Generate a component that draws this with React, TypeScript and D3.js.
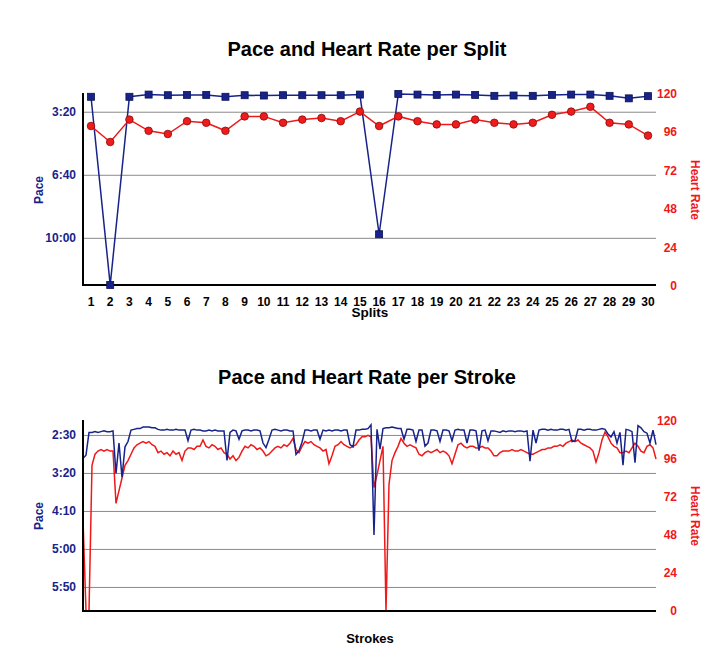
import React from 'react'
import * as d3 from 'd3'

// split chart data
const splits = [1, 2, 3, 4, 5, 6, 7, 8, 9, 10, 11, 12, 13, 14, 15, 16, 17, 18, 19, 20, 21, 22, 23, 24, 25, 26, 27, 28, 29, 30]
// pace per split, seconds per 500m
const splitPace = [151, 748, 151, 144, 146, 145, 145, 151, 146, 147, 146, 146, 146, 146, 144, 587, 142, 144, 145, 144, 145, 148, 147, 148, 145, 144, 144, 148, 156, 149]
const splitHeartRate = [100, 90, 104, 97, 95, 103, 102, 97, 106, 106, 102, 104, 105, 103, 109, 100, 106, 103, 101, 101, 104, 102, 101, 102, 107, 109, 112, 102, 101, 94]

// stroke chart data (one value per stroke sample)
const strokePace = [
  180, 176, 146, 146, 145, 146, 145, 144, 145, 145,
  144, 200, 160, 205, 165, 158, 143, 142, 141, 141,
  139, 139, 139, 140, 140, 142, 143, 143, 142, 143,
  143, 142, 143, 143, 143, 157, 143, 142, 143, 143,
  144, 144, 143, 144, 143, 144, 144, 144, 183, 146,
  143, 144, 155, 144, 143, 143, 144, 143, 143, 144,
  160, 166, 155, 143, 142, 143, 144, 143, 143, 144,
  144, 175, 170, 159, 143, 143, 144, 143, 143, 155,
  143, 144, 143, 144, 143, 143, 144, 143, 143, 162,
  165, 143, 143, 142, 142, 141, 136, 281, 142, 168,
  141, 140, 140, 139, 140, 141, 141, 155, 142, 142,
  143, 158, 143, 143, 164, 160, 143, 143, 144, 158,
  143, 143, 144, 157, 143, 142, 143, 143, 160, 143,
  143, 144, 170, 144, 143, 157, 144, 144, 145, 146,
  144, 145, 144, 144, 145, 144, 144, 145, 144, 184,
  143, 160, 143, 142, 142, 143, 142, 143, 143, 142,
  142, 143, 142, 158, 157, 142, 142, 143, 142, 142,
  143, 143, 142, 141, 142, 148, 152, 145, 160, 146,
  189, 142, 143, 145, 186, 137, 140, 145, 147, 160,
  143, 162
]
const strokeHeartRate = [
  58, 0, 0, 92, 99, 101, 102, 101, 102, 101,
  101, 68, 76, 84, 92, 95, 99, 103, 105, 106,
  107, 106, 107, 105, 104, 100, 101, 99, 100, 98,
  101, 99, 100, 95, 101, 103, 103, 102, 104, 104,
  108, 104, 103, 105, 104, 102, 103, 100, 99, 96,
  98, 95, 97, 101, 104, 103, 105, 104, 102, 103,
  101, 98, 99, 101, 103, 104, 103, 105, 104, 106,
  109, 102, 100, 104, 107, 106, 107, 105, 104, 103,
  101, 102, 93, 98, 104, 105, 107, 105, 104, 103,
  104, 105, 108, 110, 110, 111, 110, 78, 86, 95,
  104, 0, 80, 95, 100, 104, 109, 106, 104, 105,
  104, 103, 99, 98, 100, 101, 100, 101, 102, 100,
  101, 100, 98, 93, 99, 105, 106, 104, 103, 104,
  104, 103, 103, 104, 103, 103, 101, 98, 98, 100,
  101, 101, 101, 102, 101, 101, 102, 101, 100, 99,
  99, 100, 101, 102, 102, 103, 103, 104, 104, 105,
  104, 106, 107, 108, 107, 108, 106, 105, 104, 103,
  101, 94, 100, 108, 113, 110, 106, 104, 103, 100,
  100, 101, 100, 103, 106, 104, 101, 100, 104, 105,
  103, 96
]

const splitPaceTicks = [200, 400, 600]
const strokePaceTicks = [150, 200, 250, 300, 350]
const heartRateTicks = [0, 24, 48, 72, 96, 120]

const NAVY = '#17238a'
const RED = '#f01818'
const FONT = '"Liberation Sans", Arial, Helvetica, sans-serif'

const fmtPace = (s: number) => `${Math.floor(s / 60)}:${String(s % 60).padStart(2, '0')}`

export default function App () {
  const left = 83
  const right = 656

  // --- per split ---
  const x1 = d3.scalePoint<number>().domain(splits).range([91, 648])
  const yPace1 = d3.scaleLinear().domain([139, 748]).range([93, 285])
  const yHr1 = d3.scaleLinear().domain([0, 120]).range([286, 94])
  const paceLine1 = d3.line<number>().x((d, i) => x1(splits[i])!).y(d => yPace1(d))
  const hrLine1 = d3.line<number>().x((d, i) => x1(splits[i])!).y(d => yHr1(d))

  // --- per stroke ---
  const x2 = d3.scaleLinear().domain([0, strokePace.length - 1]).range([left, right])
  const yPace2 = d3.scaleLinear().domain([131, 381]).range([421, 611])
  const yHr2 = d3.scaleLinear().domain([0, 120]).range([611, 421])
  const paceLine2 = d3.line<number>().x((d, i) => x2(i)).y(d => yPace2(d))
  const hrLine2 = d3.line<number>().x((d, i) => x2(i)).y(d => yHr2(d))

  return (
    <svg width={713} height={659} style={{position: 'absolute', left: 0, top: 0, background: '#fff'}} fontFamily={FONT}>
      {/* ===== top chart ===== */}
      <text x={367} y={56} textAnchor='middle' fontSize={20} fontWeight='bold'>Pace and Heart Rate per Split</text>
      {splitPaceTicks.map(t => (
        <g key={'g1' + t}>
          <line x1={left} x2={right} y1={yPace1(t)} y2={yPace1(t)} stroke='#8a8a8a' strokeWidth={1} />
          <text x={76} y={yPace1(t) + 4} textAnchor='end' fontSize={12} fontWeight='bold' fill={NAVY}>{fmtPace(t)}</text>
        </g>
      ))}
      {heartRateTicks.map(t => (
        <text key={'h1' + t} x={677} y={yHr1(t) + 4} textAnchor='end' fontSize={12} fontWeight='bold' fill={RED}>{t}</text>
      ))}
      {splits.map(s => (
        <text key={'s' + s} x={x1(s)} y={305.5} textAnchor='middle' fontSize={12} fontWeight='bold' fill='#000'>{s}</text>
      ))}
      <text x={370} y={316.5} textAnchor='middle' fontSize={13.5} fontWeight='bold'>Splits</text>
      <text transform='translate(43,190) rotate(-90)' textAnchor='middle' fontSize={12} fontWeight='bold' fill={NAVY}>Pace</text>
      <text transform='translate(691,190) rotate(90)' textAnchor='middle' fontSize={12} fontWeight='bold' fill={RED}>Heart Rate</text>
      <line x1={left} x2={left} y1={93} y2={286} stroke='#000' strokeWidth={2} />
      <line x1={left - 1} x2={right} y1={285} y2={285} stroke='#000' strokeWidth={2} />

      <path d={paceLine1(splitPace)!} fill='none' stroke={NAVY} strokeWidth={1.5} />
      <path d={hrLine1(splitHeartRate)!} fill='none' stroke={RED} strokeWidth={1.5} />
      {splitPace.map((d, i) => (
        <rect key={'p' + i} x={x1(splits[i])! - 3.5} y={yPace1(d) - 3.5} width={7} height={7} fill={NAVY} stroke='#0c1250' strokeWidth={0.8} />
      ))}
      {splitHeartRate.map((d, i) => (
        <circle key={'r' + i} cx={x1(splits[i])} cy={yHr1(d)} r={3.8} fill='#ee1c1c' stroke='#8a0a0a' strokeWidth={0.8} />
      ))}

      {/* ===== bottom chart ===== */}
      <text x={367} y={384} textAnchor='middle' fontSize={20} fontWeight='bold'>Pace and Heart Rate per Stroke</text>
      {strokePaceTicks.map(t => (
        <g key={'g2' + t}>
          <line x1={left} x2={right} y1={yPace2(t)} y2={yPace2(t)} stroke='#8a8a8a' strokeWidth={1} />
          <text x={76} y={yPace2(t) + 4} textAnchor='end' fontSize={12} fontWeight='bold' fill={NAVY}>{fmtPace(t)}</text>
        </g>
      ))}
      {heartRateTicks.map(t => (
        <text key={'h2' + t} x={677} y={yHr2(t) + 4} textAnchor='end' fontSize={12} fontWeight='bold' fill={RED}>{t}</text>
      ))}
      <text x={370} y={643} textAnchor='middle' fontSize={13} fontWeight='bold'>Strokes</text>
      <text transform='translate(43,516) rotate(-90)' textAnchor='middle' fontSize={12} fontWeight='bold' fill={NAVY}>Pace</text>
      <text transform='translate(691,516) rotate(90)' textAnchor='middle' fontSize={12} fontWeight='bold' fill={RED}>Heart Rate</text>

      <path d={hrLine2(strokeHeartRate)!} fill='none' stroke={RED} strokeWidth={1.5} />
      <path d={paceLine2(strokePace)!} fill='none' stroke={NAVY} strokeWidth={1.5} />
      <line x1={left} x2={left} y1={420} y2={612} stroke='#000' strokeWidth={2} />
      <line x1={left - 1} x2={right} y1={611} y2={611} stroke='#000' strokeWidth={2} />
    </svg>
  )
}
